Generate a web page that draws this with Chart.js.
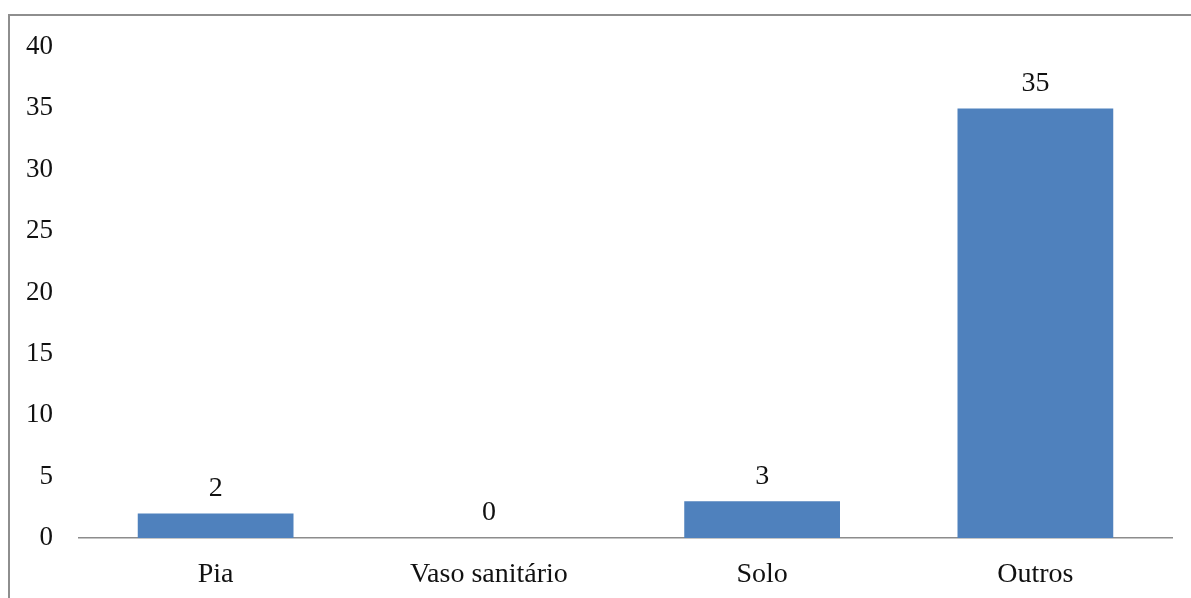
<!DOCTYPE html>
<html>
<head>
<meta charset="utf-8">
<script src="https://cdn.jsdelivr.net/npm/chart.js@4.4.0/dist/chart.umd.min.js"></script>
<style>
  html, body { margin: 0; padding: 0; background: #fff; }
  #wrap { position: relative; width: 1191px; height: 598px; }
</style>
</head>
<body>
<div id="wrap"><canvas id="grafico" width="1191" height="598"></canvas></div>
<script>
// dados do gráfico
const categorias = ['Pia', 'Vaso sanitário', 'Solo', 'Outros'];
const valores = [2, 0, 3, 35];
const ticksY = [0, 5, 10, 15, 20, 25, 30, 35, 40];

const fonte = "'Liberation Serif', 'Times New Roman', serif";

// moldura (só bordas esquerda e superior aparecem no recorte)
const moldura = {
    id: 'moldura',
    beforeDraw(chart) {
        const c = chart.ctx;
        c.save();
        c.strokeStyle = '#8e8e8e';
        c.lineWidth = 2;
        c.beginPath();
        c.moveTo(9, 598);
        c.lineTo(9, 15);
        c.lineTo(1191, 15);
        c.stroke();
        c.restore();
    }
};

// rótulos de valor acima das barras
const rotulos = {
    id: 'rotulos',
    afterDatasetsDraw(chart) {
        const c = chart.ctx;
        const meta = chart.getDatasetMeta(0);
        c.save();
        c.font = '28px ' + fonte;
        c.fillStyle = '#111';
        c.textAlign = 'center';
        c.textBaseline = 'middle';
        meta.data.forEach((bar, i) => {
            c.fillText(String(valores[i]), bar.x, bar.y - 25);
        });
        c.restore();
    }
};

Chart.defaults.font.family = fonte;
Chart.defaults.font.size = 28;
Chart.defaults.color = '#111';

const ctx = document.getElementById('grafico').getContext('2d');
const grafico = new Chart(ctx, {
    type: 'bar',
    data: {
        labels: categorias,
        datasets: [{
            data: valores,
            backgroundColor: '#4F81BD',
            borderWidth: 0,
            barPercentage: 0.57,
            categoryPercentage: 1
        }]
    },
    options: {
        responsive: false,
        animation: false,
        layout: { padding: { top: 47, right: 19, left: 0, bottom: 0 } },
        plugins: {
            legend: { display: false },
            tooltip: { enabled: false }
        },
        scales: {
            x: {
                grid: { display: true, drawOnChartArea: false, drawTicks: false },
                border: { display: true, color: '#8c8c8c', width: 1.5 },
                ticks: { padding: 20, font: { size: 28 } },
                afterFit(scale) { scale.height = 60; }
            },
            y: {
                min: 0,
                max: 40,
                afterBuildTicks(scale) { scale.ticks = ticksY.map(v => ({ value: v })); },
                grid: { display: false, drawTicks: false },
                border: { display: false },
                ticks: { padding: 26, font: { size: 27 } },
                afterFit(scale) { scale.width = 79; }
            }
        }
    },
    plugins: [moldura, rotulos]
});
</script>
</body>
</html>
